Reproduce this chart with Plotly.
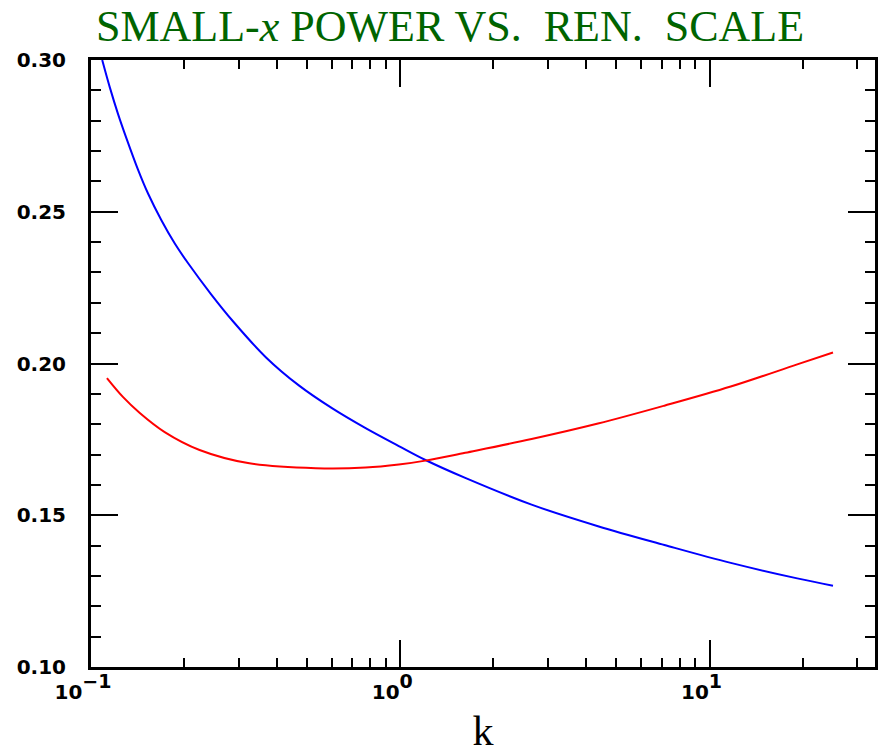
import plotly.graph_objects as go

# ---- data ----
k_blue = [0.1087, 0.1151, 0.1224, 0.1303, 0.1420, 0.1529, 0.1689, 0.1864, 0.2058,
          0.2446, 0.2873, 0.3681, 0.4710, 0.6031, 0.7725, 0.989, 1.206, 1.622, 2.658,
          4.358, 7.145, 11.71, 19.21, 25.07]
v_blue = [0.3000, 0.2909, 0.2821, 0.2741, 0.2638, 0.2560, 0.2472, 0.2396, 0.2331,
          0.2228, 0.2140, 0.2020, 0.1927, 0.1852, 0.1787, 0.1728, 0.1682, 0.1623, 0.1535,
          0.1464, 0.1402, 0.1343, 0.1292, 0.1268]

k_red = [0.1126, 0.1268, 0.1438, 0.1731, 0.2244, 0.3251, 0.5332, 0.7725, 0.989,
         1.206, 1.622, 2.658, 4.358, 7.145, 11.71, 19.21, 25.07]
v_red = [0.1952, 0.1890, 0.1837, 0.1774, 0.1715, 0.1671, 0.1655, 0.1657, 0.1667,
         0.1680, 0.1706, 0.1751, 0.1802, 0.1861, 0.1924, 0.1997, 0.2036]

x_tickvals = [0.1, 1, 10]
x_exponents = ["−1", "0", "1"]
x_minorvals = [0.2, 0.3, 0.4, 0.5, 0.6, 0.7, 0.8, 0.9,
               2, 3, 4, 5, 6, 7, 8, 9, 20, 30]
y_tickvals = [0.10, 0.15, 0.20, 0.25, 0.30]
y_ticktext = ["0.10", "0.15", "0.20", "0.25", "0.30"]

title_text = "SMALL-<i>x</i> POWER VS.&nbsp; REN.&nbsp; SCALE"
x_title = "k"

x_ticktext = ["10<span style='baseline-shift:11px;font-size:19px'>%s</span>" % e
              for e in x_exponents]

tickfont = dict(family="DejaVu Sans", size=20, color="black", weight="bold")

fig = go.Figure()
fig.add_trace(go.Scatter(x=k_blue, y=v_blue, mode="lines",
                         line=dict(color="#0000ff", width=2, shape="spline", smoothing=1),
                         showlegend=False))
fig.add_trace(go.Scatter(x=k_red, y=v_red, mode="lines",
                         line=dict(color="#ff0000", width=2, shape="spline", smoothing=1),
                         showlegend=False))

fig.update_layout(
    width=881, height=754,
    margin=dict(l=91, r=3, t=60, b=87),
    paper_bgcolor="white", plot_bgcolor="white",
    title=dict(text=title_text, xref="container", yref="container",
               x=450/881, xanchor="center", y=1-26/754, yanchor="middle",
               font=dict(family="Liberation Serif", size=44, color="#006400")),
)

fig.update_xaxes(
    type="log", range=[-1, 1.535],
    showgrid=False, zeroline=False,
    showline=True, linecolor="black", linewidth=3, mirror="ticks",
    ticks="inside", ticklen=27, tickwidth=2, tickcolor="black",
    tickmode="array", tickvals=x_tickvals, ticktext=x_ticktext,
    tickfont=tickfont, ticklabelshift=-8, ticklabelstandoff=5,
    minor=dict(tickmode="array", tickvals=x_minorvals, ticks="inside",
               ticklen=9, tickwidth=2, tickcolor="black", showgrid=False),
    title=dict(text=x_title, font=dict(family="Liberation Serif", size=42, color="black"),
               standoff=16),
)
fig.update_yaxes(
    range=[0.10, 0.30],
    showgrid=False, zeroline=False,
    showline=True, linecolor="black", linewidth=3, mirror="ticks",
    ticks="inside", ticklen=27, tickwidth=2, tickcolor="black",
    tickmode="array", tickvals=y_tickvals, ticktext=y_ticktext,
    tickfont=tickfont, ticklabelstandoff=18,
    minor=dict(dtick=0.01, tick0=0.1, ticks="inside",
               ticklen=10, tickwidth=2, tickcolor="black", showgrid=False),
)

fig.write_html("out.html")
